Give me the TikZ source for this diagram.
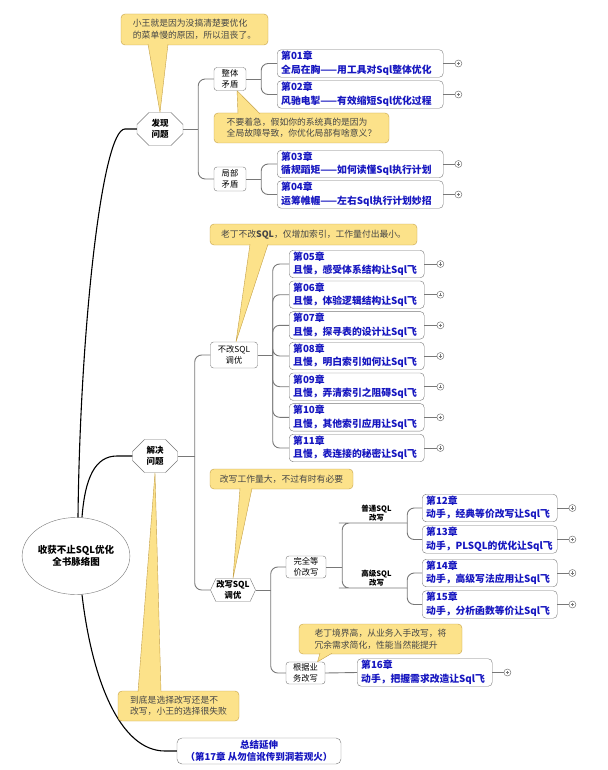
\documentclass[tikz,border=0pt]{standalone}
\usepackage{fontspec}
\setmainfont{Noto Sans CJK SC}
\usetikzlibrary{shapes.geometric,shapes.misc,shapes.symbols}

\definecolor{linegray}{RGB}{120,120,120}
\definecolor{chapblue}{RGB}{22,22,192}
\definecolor{notefill}{RGB}{252,226,138}
\definecolor{noteline}{RGB}{196,160,72}
\definecolor{notetext}{RGB}{70,70,70}

\begin{document}
\begin{tikzpicture}[x=1pt,y=-1pt,
                    mainline/.style={draw=black,line width=1.1pt},
                    branch/.style={draw=linegray,line width=.9pt,rounded corners=7pt},
                    hub/.style={chamfered rectangle,chamfered rectangle sep=6pt,draw=linegray,fill=white,
                                font=\bfseries\fontsize{8.5}{11}\selectfont,align=center,inner sep=0pt,
                                minimum width=46pt,minimum height=33pt},
                    topic/.style={draw=linegray,fill=white,rounded corners=3pt,align=center,inner sep=1pt,
                                  font=\fontsize{8.3}{10.5}\selectfont},
                    plain/.style={align=center,inner sep=1.5pt,font=\bfseries\fontsize{7.5}{9}\selectfont},
                    chapter/.style={draw=linegray,fill=white,rounded corners=4pt,text=chapblue,anchor=west,
                                    font=\bfseries\fontsize{9.8}{13.5}\selectfont,align=left,
                                    inner xsep=4pt,inner ysep=1pt,minimum height=27.5pt,text width=127pt},
                    widechapter/.style={chapter,text width=158pt},
                    fold/.style={circle,draw=linegray,fill=white,line width=.5pt,minimum size=7pt,inner sep=0pt,
                                 path picture={\draw[linegray,line width=.4pt]
                                   ([xshift=-1.6pt]path picture bounding box.center) -- ([xshift=1.6pt]path picture bounding box.center)
                                   ([yshift=-1.6pt]path picture bounding box.center) -- ([yshift=1.6pt]path picture bounding box.center);}},
                    note/.style={draw=noteline,fill=notefill,rounded corners=4pt,text=notetext,align=left,inner sep=0pt,
                                 font=\fontsize{8.8}{11.5}\selectfont},
                    tail/.style={draw=noteline,fill=notefill,line width=.4pt,line join=round}]
\useasboundingbox (0,0) rectangle (607,770);

% centre
\node[ellipse,draw=linegray,fill=white,minimum width=107pt,minimum height=77pt,inner sep=0pt,align=center,
      font=\bfseries\fontsize{9.5}{12}\selectfont] (root) at (76,556) {收获不止SQL优化\\全书脉络图};

% first level
\node[hub] (fx) at (160,129) {发现\\问题};
\node[hub,minimum width=45pt] (jj) at (155,456) {解决\\问题};
\node[draw=linegray,fill=white,rounded corners=5pt,text=chapblue,align=center,inner sep=0pt,
      minimum width=164pt,minimum height=26pt,font=\bfseries\fontsize{9.5}{11.5}\selectfont] (zj) at (259,751)
      {总结延伸\\（第17章 从勿信讹传到洞若观火）};

\draw[mainline] ([xshift=2pt]root.north) .. controls (80,330) and (102,129) .. (125,129) -- (fx.west);
\draw[mainline] ([xshift=6pt]root.north) .. controls (85,478) and (95,456) .. (117,456) -- (jj.west);
\draw[mainline] ([xshift=6pt]root.south) .. controls (92,680) and (120,751) .. (165,751) -- (zj.west);

% faxian wenti
\node[topic,minimum width=32pt,minimum height=23pt] (zt) at (230,79) {整体\\矛盾};
\node[topic,minimum width=32pt,minimum height=24pt] (jb) at (230,179) {局部\\矛盾};
\draw[branch] (fx.east) -- ++(15,0) coordinate (fx-j);
\draw[branch] (fx-j) |- (zt.west);
\draw[branch] (fx-j) |- (jb.west);

\node[widechapter] (ch01) at (277,63.5) {第01章\\全局在胸——用工具对Sql整体优化};
\node[widechapter] (ch02) at (277,94.5) {第02章\\风驰电掣——有效缩短Sql优化过程};
\node[widechapter] (ch03) at (277,164) {第03章\\循规蹈矩——如何读懂Sql执行计划};
\node[widechapter] (ch04) at (277,194.5) {第04章\\运筹帷幄——左右Sql执行计划妙招};
\draw[branch] (zt.east) -- ++(15,0) coordinate (zt-j);
\draw[branch] (zt-j) |- (ch01.west);
\draw[branch] (zt-j) |- (ch02.west);
\draw[branch] (jb.east) -- ++(15,0) coordinate (jb-j);
\draw[branch] (jb-j) |- (ch03.west);
\draw[branch] (jb-j) |- (ch04.west);

% jiejue wenti
\node[topic,minimum width=47pt,minimum height=26pt] (bg) at (234,355) {不改SQL\\调优};
\node[signal,signal to=east and west,signal pointer angle=130,draw=linegray,fill=white,align=center,inner sep=0pt,
      minimum width=45pt,minimum height=23pt,font=\bfseries\fontsize{8.3}{10.5}\selectfont] (gx) at (233,590) {改写SQL\\调优};
\draw[branch] (jj.east) -- ++(17,0) coordinate (jj-j);
\draw[branch] (jj-j) |- (bg.west);
\draw[branch] (jj-j) |- (gx.west);

\node[chapter] (ch05) at (289,264) {第05章\\且慢，感受体系结构让Sql飞};
\node[chapter] (ch06) at (289,294.7) {第06章\\且慢，体验逻辑结构让Sql飞};
\node[chapter] (ch07) at (289,325.3) {第07章\\且慢，探寻表的设计让Sql飞};
\node[chapter] (ch08) at (289,356) {第08章\\且慢，明白索引如何让Sql飞};
\node[chapter] (ch09) at (289,386.7) {第09章\\且慢，弄清索引之阻碍Sql飞};
\node[chapter] (ch10) at (289,417.3) {第10章\\且慢，其他索引应用让Sql飞};
\node[chapter] (ch11) at (289,448) {第11章\\且慢，表连接的秘密让Sql飞};
\draw[branch] (bg.east) -- ++(15,0) coordinate (bg-j);
\draw[branch] (bg-j) |- (ch05.west);
\draw[branch] (bg-j) |- (ch06.west);
\draw[branch] (bg-j) |- (ch07.west);
\draw[branch] (bg-j) |- (ch08.west);
\draw[branch] (bg-j) |- (ch09.west);
\draw[branch] (bg-j) |- (ch10.west);
\draw[branch] (bg-j) |- (ch11.west);

% gaixie
\node[topic,minimum width=40pt,minimum height=22pt] (qd) at (306,567) {完全等\\价改写};
\node[topic,minimum width=39pt,minimum height=22pt] (gj) at (305.5,673) {根据业\\务改写};
\draw[branch] (gx.east) -- ++(15,0) coordinate (gx-j);
\draw[branch] (gx-j) |- (qd.west);
\draw[branch] (gx-j) |- (gj.west);

\node[plain,minimum width=61pt,anchor=south] (pt) at (376.5,523) {普通SQL\\改写};
\node[plain,minimum width=61pt,anchor=south] (gs) at (376.5,588) {高级SQL\\改写};
\draw[branch] (qd.east) -- ++(16,0) coordinate (qd-j);
\draw[branch] (qd-j) |- (pt.south west) -- (pt.south east);
\draw[branch] (qd-j) |- (gs.south west) -- (gs.south east);

\node[chapter] (ch12) at (422,508) {第12章\\动手，经典等价改写让Sql飞};
\node[chapter] (ch13) at (422,539.5) {第13章\\动手，PLSQL的优化让Sql飞};
\node[chapter] (ch14) at (422,573) {第14章\\动手，高级写法应用让Sql飞};
\node[chapter] (ch15) at (422,604.5) {第15章\\动手，分析函数等价让Sql飞};
\node[chapter] (ch16) at (357,672.5) {第16章\\动手，把握需求改造让Sql飞};
\draw[branch] (pt.south east) |- (ch12.west);
\draw[branch] (pt.south east) |- (ch13.west);
\draw[branch] (gs.south east) |- (ch14.west);
\draw[branch] (gs.south east) |- (ch15.west);
\draw[branch] (gj.east) -- (ch16.west);

% fold marks
\node[fold] (f01) at ([xshift=15pt]ch01.east) {};
\node[fold] (f02) at ([xshift=15pt]ch02.east) {};
\node[fold] (f03) at ([xshift=15pt]ch03.east) {};
\node[fold] (f04) at ([xshift=15pt]ch04.east) {};
\node[fold] (f05) at ([xshift=16pt]ch05.east) {};
\node[fold] (f06) at ([xshift=16pt]ch06.east) {};
\node[fold] (f07) at ([xshift=16pt]ch07.east) {};
\node[fold] (f08) at ([xshift=16pt]ch08.east) {};
\node[fold] (f09) at ([xshift=16pt]ch09.east) {};
\node[fold] (f10) at ([xshift=16pt]ch10.east) {};
\node[fold] (f11) at ([xshift=16pt]ch11.east) {};
\node[fold] (f12) at ([xshift=15pt]ch12.east) {};
\node[fold] (f13) at ([xshift=15pt]ch13.east) {};
\node[fold] (f14) at ([xshift=15pt]ch14.east) {};
\node[fold] (f15) at ([xshift=15pt]ch15.east) {};
\node[fold] (f16) at ([xshift=15pt]ch16.east) {};
\draw[branch] (ch01.east) -- (f01);
\draw[branch] (ch02.east) -- (f02);
\draw[branch] (ch03.east) -- (f03);
\draw[branch] (ch04.east) -- (f04);
\draw[branch] (ch05.east) -- (f05);
\draw[branch] (ch06.east) -- (f06);
\draw[branch] (ch07.east) -- (f07);
\draw[branch] (ch08.east) -- (f08);
\draw[branch] (ch09.east) -- (f09);
\draw[branch] (ch10.east) -- (f10);
\draw[branch] (ch11.east) -- (f11);
\draw[branch] (ch12.east) -- (f12);
\draw[branch] (ch13.east) -- (f13);
\draw[branch] (ch14.east) -- (f14);
\draw[branch] (ch15.east) -- (f15);
\draw[branch] (ch16.east) -- (f16);

% notes
\node[note,minimum width=147pt,minimum height=31pt] (note1) at (194.5,29.5) {小王就是因为没搞清楚要优化\\的菜单慢的原因，所以沮丧了。};
\filldraw[tail] ([xshift=-46.5pt,yshift=1pt]note1.south) -- (fx.north) -- ([xshift=-26.5pt,yshift=1pt]note1.south);

\node[note,minimum width=175pt,minimum height=30pt] (note2) at (301.5,128) {不要着急，假如你的系统真的是因为\\全局故障导致，你优化局部有啥意义？};
\filldraw[tail] ([xshift=-63.5pt,yshift=-1pt]note2.north) -- ([xshift=7pt]zt.south) -- ([xshift=-41.5pt,yshift=-1pt]note2.north);

\node[note,minimum width=207pt,minimum height=21pt] (note3) at (313.5,234.5) {老丁不改\textbf{SQL}，仅增加索引，工作量付出最小。};
\filldraw[tail] ([xshift=-63.5pt,yshift=1pt]note3.south) -- ([xshift=2pt]bg.north) -- ([xshift=-45.5pt,yshift=1pt]note3.south);

\node[note,minimum width=143pt,minimum height=20pt] (note4) at (281.5,479) {改写工作量大，不过有时有必要};
\filldraw[tail] ([xshift=-41.5pt,yshift=1pt]note4.south) -- (gx.north) -- ([xshift=-29.5pt,yshift=1pt]note4.south);

\node[note,minimum width=163pt,minimum height=30pt] (note5) at (380.5,639) {老丁境界高，从业务入手改写，将\\冗余需求简化，性能当然能提升};
\filldraw[tail] ([xshift=-60.5pt,yshift=1pt]note5.south) -- ([xshift=12pt]gj.north) -- ([xshift=-48.5pt,yshift=1pt]note5.south);

\node[note,minimum width=121pt,minimum height=30pt] (note6) at (178.5,706) {到底是选择改写还是不\\改写，小王的选择很失败};
\filldraw[tail] ([xshift=-40.5pt,yshift=-1pt]note6.north) -- (jj.south) -- ([xshift=-17.5pt,yshift=-1pt]note6.north);
\end{tikzpicture}
\end{document}
